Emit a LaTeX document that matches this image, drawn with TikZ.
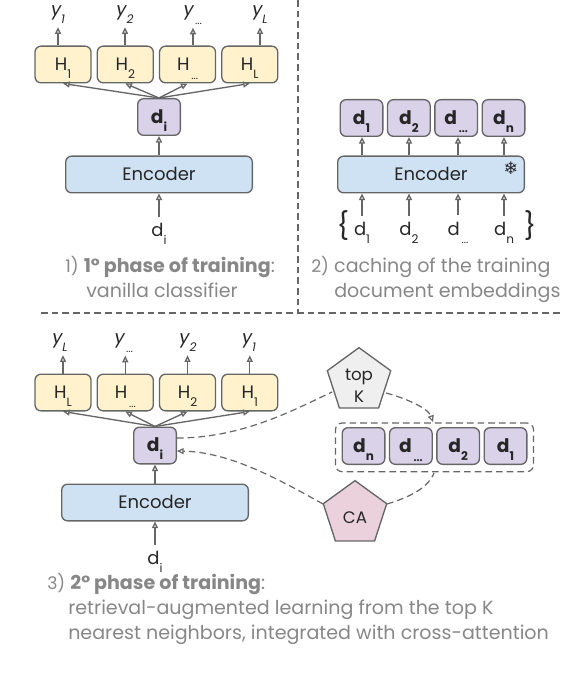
\documentclass[tikz,border=0pt]{standalone}
\usepackage{fontspec}
\setmainfont{Poppins}
\usepackage{xcolor}
\usetikzlibrary{shapes.geometric, arrows.meta, positioning, fit}
\definecolor{lineGray}{RGB}{102, 102, 102}
\definecolor{textGray}{RGB}{135, 135, 135}
\definecolor{headYellow}{RGB}{255, 242, 204}
\definecolor{embPurple}{RGB}{217, 210, 233}
\definecolor{encBlue}{RGB}{207, 226, 243}
\definecolor{caPink}{RGB}{234, 209, 220}
\definecolor{topGray}{RGB}{239, 239, 239}
\newcommand{\lowsub}[1]{\raisebox{-6pt}{\fontsize{9}{10}\selectfont #1}}
\newcommand{\lowdots}{\raisebox{-6.5pt}{\fontsize{8}{9}\selectfont\,...}}

\begin{document}
\begin{tikzpicture}[
  x=0.75pt, y=-0.75pt,
  box/.style={
    rectangle, rounded corners=4.5pt, draw=lineGray, line width=1pt,
    inner sep=0pt, text height=9.5pt, text depth=0pt, text=black!85, font=\fontsize{13.5}{15}\selectfont
  },
  head/.style={box, fill=headYellow, minimum width=42pt, minimum height=27.5pt},
  emb/.style={box, fill=embPurple, minimum width=32pt, minimum height=27.5pt, font=\fontsize{14}{15}\selectfont\bfseries},
  enc/.style={box, fill=encBlue, minimum width=140pt, minimum height=27.5pt},
  penta/.style={regular polygon, regular polygon sides=5, minimum size=50pt, inner sep=0pt,
    draw=lineGray, line width=1pt, text=black!85, font=\fontsize{12.5}{15}\selectfont},
  plain/.style={inner sep=0pt, outer sep=2.5pt, text=black!85, font=\fontsize{13.5}{15}\selectfont},
  inlabel/.style={plain, outer sep=5pt},
  ylabel/.style={plain, font=\fontsize{13.5}{15}\selectfont\itshape},
  captxt/.style={inner sep=0pt, anchor=base west, text=textGray, font=\fontsize{14.3}{15}\selectfont},
  arr/.style={draw=lineGray, line width=1pt, -{Triangle[open, length=5pt, width=4.5pt]}},
  link/.style={draw=lineGray, line width=0.9pt, dash pattern=on 5pt off 3pt},
  node distance=3.7pt
]
\useasboundingbox (0,0) rectangle (562,680);

% 1) first phase
\node[head] (h1a) at (63,64.5) {H\lowsub{1}};
\node[head, right=of h1a] (h2a) {H\lowsub{2}};
\node[head, right=of h2a] (h3a) {H\lowdots};
\node[head, right=of h3a] (h4a) {H\lowsub{L}};
\node[ylabel] (y1a) at (58,15) {y\lowsub{1}};
\node[ylabel] (y2a) at (125,15) {y\lowsub{2}};
\node[ylabel] (y3a) at (193,15) {y\lowdots};
\node[ylabel] (y4a) at (260,15) {y\lowsub{L}};
\node[emb] (dia) at (159,117) {d\lowsub{\bfseries i}};
\node[enc] (enca) at (159,174.5) {Encoder};
\node[inlabel] (ina) at (159,234) {d\lowsub{i}};

\draw[arr] (ina) -- (enca);
\draw[arr] (enca) -- (dia);
\foreach \h in {h1a,h2a,h3a,h4a} \draw[arr] (dia.north) -- (\h.south);
\draw[arr] (h1a.north -| y1a) -- (y1a);
\draw[arr] (h2a.north -| y2a) -- (y2a);
\draw[arr] (h3a.north -| y3a) -- (y3a);
\draw[arr] (h4a.north -| y4a) -- (y4a);

\node[captxt] (cap1a) at (65,272.5) {{\fontsize{13}{15}\selectfont 1)} \textbf{1° phase of training}:};
\node[captxt] (cap1b) at (86,297) {vanilla classifier};

% 2) caching
\node[emb] (d1b) at (361.5,118) {d\lowsub{\bfseries 1}};
\node[emb, right=2.5pt of d1b] (d2b) {d\lowsub{\bfseries 2}};
\node[emb, right=2.5pt of d2b] (d3b) {d\lowdots};
\node[emb, right=2.5pt of d3b] (d4b) {d\lowsub{\bfseries n}};
\node[enc] (encb) at (431,174.5) {Encoder};
\node[plain, font=\fontsize{13}{14}\selectfont] (snow) at (511,168) {\fontspec{DejaVu Sans}❄};
\node[inlabel] (in1b) at (362,233) {d\lowsub{1}};
\node[inlabel] (in2b) at (409,233) {d\lowsub{2}};
\node[inlabel] (in3b) at (458,233) {d\lowdots};
\node[inlabel] (in4b) at (504,233) {d\lowsub{n}};
\node[plain, font=\fontsize{20}{22}\selectfont] (brl) at (343,226) {\{};
\node[plain, font=\fontsize{20}{22}\selectfont] (brr) at (530,226) {\}};

\draw[arr] (in1b) -- (encb.south -| in1b);
\draw[arr] (in2b) -- (encb.south -| in2b);
\draw[arr] (in3b) -- (encb.south -| in3b);
\draw[arr] (in4b) -- (encb.south -| in4b);
\draw[arr] (encb.north -| in1b) -- (d1b.south -| in1b);
\draw[arr] (encb.north -| in2b) -- (d2b.south -| in2b);
\draw[arr] (encb.north -| in3b) -- (d3b.south -| in3b);
\draw[arr] (encb.north -| in4b) -- (d4b.south -| in4b);

\node[captxt] (cap2a) at (311,272.5) {{\fontsize{13}{15}\selectfont 2)} caching of the training};
\node[captxt] (cap2b) at (334,297) {document embeddings};

% 3) second phase
\node[head] (h1c) at (63,392.5) {H\lowsub{L}};
\node[head, right=of h1c] (h2c) {H\lowdots};
\node[head, right=of h2c] (h3c) {H\lowsub{2}};
\node[head, right=of h3c] (h4c) {H\lowsub{1}};
\node[ylabel] (y1c) at (60,343) {y\lowsub{L}};
\node[ylabel] (y2c) at (124,343) {y\lowdots};
\node[ylabel] (y3c) at (188,343) {y\lowsub{2}};
\node[ylabel] (y4c) at (249,343) {y\lowsub{1}};
\node[emb] (dic) at (155,445.5) {d\lowsub{\bfseries i}};
\node[enc] (encc) at (155,502.5) {Encoder};
\node[inlabel] (inc) at (155,562) {d\lowsub{i}};

\draw[arr] (inc) -- (encc);
\draw[arr] (encc) -- (dic);
\foreach \h in {h1c,h2c,h3c,h4c} \draw[arr] (dic.north) -- (\h.south);
\draw[arr] (h1c.north) -- (h1c.north |- y1c.south);
\draw[arr] (h2c.north) -- (h2c.north |- y2c.south);
\draw[arr] (h3c.north) -- (h3c.north |- y3c.south);
\draw[arr] (h4c.north) -- (h4c.north |- y4c.south);

\node[emb] (d1c) at (363.5,446) {d\lowsub{\bfseries n}};
\node[emb, right=2.5pt of d1c] (d2c) {d\lowdots};
\node[emb, right=2.5pt of d2c] (d3c) {d\lowsub{\bfseries 2}};
\node[emb, right=2.5pt of d3c] (d4c) {d\lowsub{\bfseries 1}};
\node[draw=lineGray, line width=0.9pt, dash pattern=on 5pt off 3pt, rounded corners=5pt, inner xsep=4.5pt, inner ysep=4pt,
  yshift=-1pt, fit=(d1c) (d2c) (d3c) (d4c)] (topset) {};

\node[penta, fill=topGray] (topk) at (359,381) {\raisebox{-3.5pt}[\height][\depth]{\shortstack{top\\[2pt]K}}};
\node[penta, fill=caPink] (ca) at (355,514) {\raisebox{-3pt}[\height][\depth]{CA}};
\coordinate (setin) at (433,422);
\coordinate (setout) at (434,473);

\draw[link] (dic.east |- 0,438) .. controls (240,438) and (290,412) .. (332,392);
\draw[link, -{Triangle[open, length=5pt, width=4.5pt]}] (386,393) .. controls (405,398) and (428,408) .. (setin);
\draw[link, -{Triangle[open, length=5pt, width=4.5pt]}] (323,504) .. controls (280,480) and (230,452) .. (dic.east |- 0,451);
\draw[link] (387,504) .. controls (410,497) and (428,488) .. (setout);

\node[captxt] (cap3a) at (47,589) {{\fontsize{13}{15}\selectfont 3)} \textbf{2° phase of training}:};
\node[captxt] (cap3b) at (68,614) {retrieval-augmented learning from the top K};
\node[captxt] (cap3c) at (68,639) {nearest neighbors, integrated with cross-attention};

% panel separators
\coordinate (sepa) at (298,0);
\coordinate (sepb) at (298,313);
\coordinate (sepc) at (41,313);
\coordinate (sepd) at (562,313);
\draw[link] (sepa) -- (sepb);
\draw[link] (sepc) -- (sepd);
\end{tikzpicture}
\end{document}
